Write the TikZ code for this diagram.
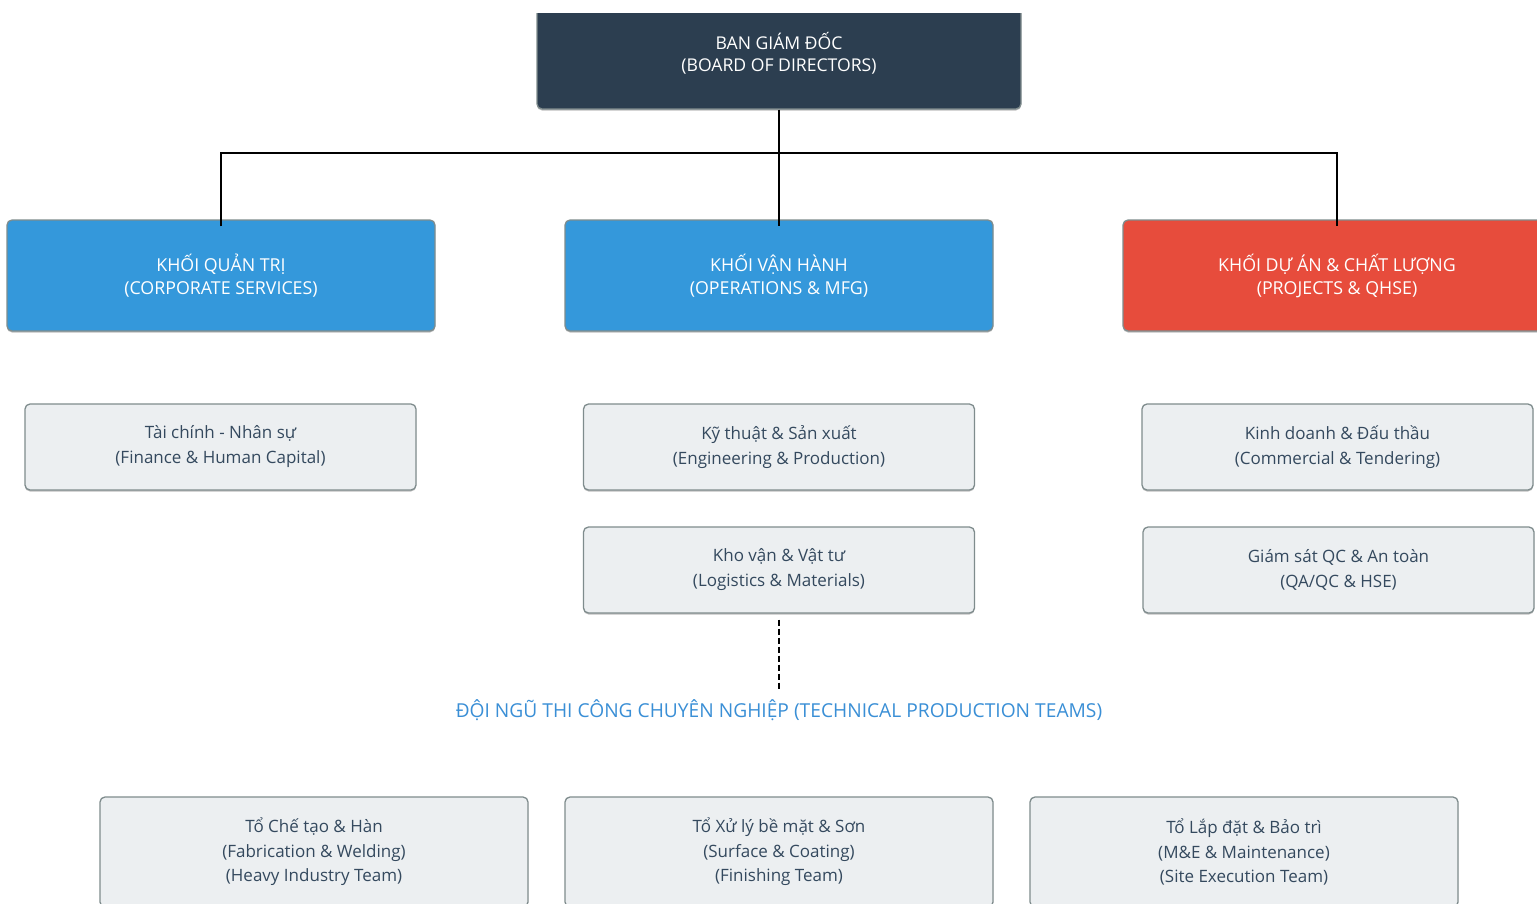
\documentclass[tikz,border=0pt]{standalone}
\usepackage{fontspec}
\setmainfont{Open Sans}
\usetikzlibrary{shadows}
\definecolor{navy}{HTML}{2C3E50}
\definecolor{bluebox}{HTML}{3498DB}
\definecolor{redbox}{HTML}{E74C3C}
\definecolor{lightbox}{HTML}{ECEFF1}
\definecolor{bordergray}{HTML}{7F8C8D}
\definecolor{textdark}{HTML}{34495E}
\definecolor{titleblue}{HTML}{3A8FD6}
\tikzset{
  box/.style={rounded corners=5pt, draw=bordergray, line width=1.3pt, align=center, inner sep=0pt,
    drop shadow={shadow xshift=0pt, shadow yshift=-1.5pt, opacity=0.25, fill=black}},
  headbox/.style={box, minimum width=428pt, minimum height=111pt, text=white,
    font=\fontsize{17.8}{23}\selectfont},
  boardbox/.style={headbox, fill=navy, minimum width=484pt, minimum height=112pt,
    font=\fontsize{17.6}{22}\selectfont},
  unitbox/.style={box, fill=lightbox, minimum width=391pt, minimum height=86pt, text=textdark,
    font=\fontsize{17}{25}\selectfont},
  teambox/.style={box, fill=lightbox, minimum width=428pt, minimum height=110pt, text=textdark,
    font=\fontsize{17}{24.5}\selectfont},
  link/.style={line width=2.4pt, black},
  dashlink/.style={line width=1.4pt, black, dash pattern=on 6pt off 3pt},
}
\begin{document}
\begin{tikzpicture}[x=1pt,y=-1pt]
\useasboundingbox (0,0) rectangle (1537,903);
\fill[white] (0,0) rectangle (1537,903);
\begin{scope}
  \clip (0,13) rectangle (1537,903);
  \node[boardbox] (board) at (779,53) {BAN GIÁM ĐỐC\\(BOARD OF DIRECTORS)};
\end{scope}
\begin{scope}
  \clip (0,0) rectangle (1537,903);
  \node[headbox, fill=bluebox] (corp) at (221,275.5) {KHỐI QUẢN TRỊ\\(CORPORATE SERVICES)};
  \node[headbox, fill=bluebox] (ops) at (779,275.5) {KHỐI VẬN HÀNH\\(OPERATIONS \& MFG)};
  \node[headbox, fill=redbox] (proj) at (1337,275.5) {KHỐI DỰ ÁN \& CHẤT LƯỢNG\\(PROJECTS \& QHSE)};

  \node[unitbox] (fin) at (220.5,447) {Tài chính - Nhân sự\\(Finance \& Human Capital)};
  \node[unitbox] (eng) at (779,447) {Kỹ thuật \& Sản xuất\\(Engineering \& Production)};
  \node[unitbox] (log) at (779,570) {Kho vận \& Vật tư\\(Logistics \& Materials)};
  \node[unitbox] (com) at (1337.5,447) {Kinh doanh \& Đấu thầu\\(Commercial \& Tendering)};
  \node[unitbox] (qa) at (1338.5,570) {Giám sát QC \& An toàn\\(QA/QC \& HSE)};

  \node[text=titleblue, font=\fontsize{19.2}{22}\selectfont] (title) at (779,710)
    {ĐỘI NGŨ THI CÔNG CHUYÊN NGHIỆP (TECHNICAL PRODUCTION TEAMS)};

  \node[teambox] (fab) at (314,852) {Tổ Chế tạo \& Hàn\\(Fabrication \& Welding)\\(Heavy Industry Team)};
  \node[teambox] (surf) at (779,852) {Tổ Xử lý bề mặt \& Sơn\\(Surface \& Coating)\\(Finishing Team)};
  \node[teambox] (me) at (1244,852) {Tổ Lắp đặt \& Bảo trì\\(M\&E \& Maintenance)\\(Site Execution Team)};
\end{scope}

\coordinate (bus) at (779,153);
\draw[link] (board.south) -- ([yshift=-7pt]ops.north);
\draw[link] ([yshift=-7pt]corp.north) |- (bus) -| ([yshift=-7pt]proj.north);
\draw[dashlink] ([yshift=-6pt]log.south) -- ([yshift=6pt]title.north);
\end{tikzpicture}
\end{document}
